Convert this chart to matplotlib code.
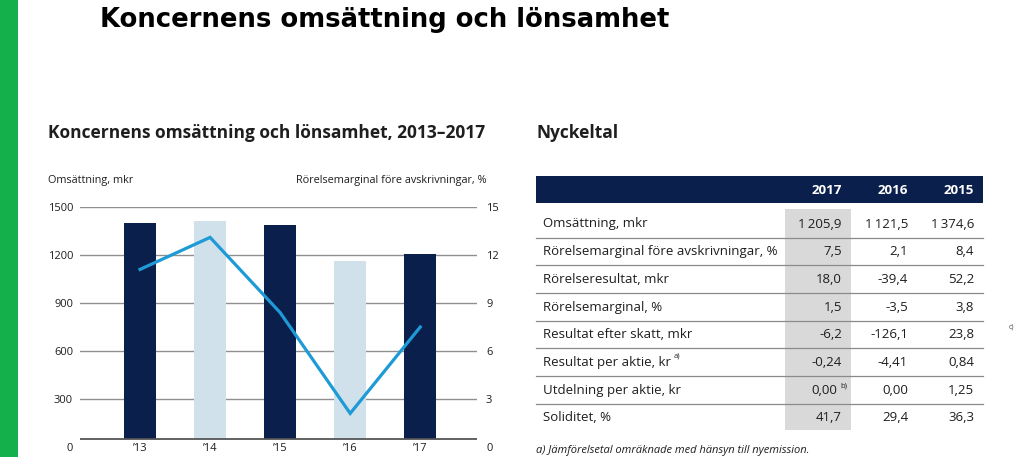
import matplotlib
matplotlib.use('Agg')
import matplotlib.pyplot as plt
from matplotlib.patches import Rectangle

W, H = 1024, 457
DPI = 100

# ---------------- data ----------------
years = ['\u201913', '\u201914', '\u201915', '\u201916', '\u201917']
revenue = [1400, 1410, 1390, 1160, 1205]        # Omsättning, mkr
margin = [11.1, 13.1, 8.4, 2.1, 7.5]            # Rörelsemarginal före avskrivningar, %
left_ticks = [0, 300, 600, 900, 1200, 1500]
right_ticks = [0, 3, 6, 9, 12, 15]

table_years = ['2017', '2016', '2015']
row_labels = ['Omsättning, mkr',
              'Rörelsemarginal före avskrivningar, %',
              'Rörelseresultat, mkr',
              'Rörelsemarginal, %',
              'Resultat efter skatt, mkr',
              'Resultat per aktie, kr',
              'Utdelning per aktie, kr',
              'Soliditet, %']
row_notes = ['', '', '', '', '', 'a)', '', '']
vals_2017 = ['1\u2009205,9', '7,5', '18,0', '1,5', '-6,2', '-0,24', '0,00', '41,7']
vals_2016 = ['1\u2009121,5', '2,1', '-39,4', '-3,5', '-126,1', '-4,41', '0,00', '29,4']
vals_2015 = ['1\u2009374,6', '8,4', '52,2', '3,8', '23,8', '0,84', '1,25', '36,3']
notes_2017 = ['', '', '', '', '', '', 'b)', '']

# ---------------- style ----------------
NAVY = '#0b1f4d'
LIGHT = '#d0e1eb'
LINE = '#1e9ad6'
GRID = '#8f8f8f'
GREEN = '#14b04c'
GREYCOL = '#d9d9d9'
TXT = '#1e1e1e'
FONT = ['Open Sans', 'DejaVu Sans']

plt.rcParams['font.family'] = FONT

fig = plt.figure(figsize=(W / DPI, H / DPI), dpi=DPI)

# overlay axes in pixel coordinates
ov = fig.add_axes([0, 0, 1, 1])
ov.set_xlim(0, W)
ov.set_ylim(H, 0)
ov.axis('off')
ov.set_zorder(0)

ov.add_patch(Rectangle((0, 0), 18, H, color=GREEN, lw=0))
ov.text(100, 20, 'Koncernens omsättning och lönsamhet', fontsize=18.6,
        family=['DejaVu Sans'], fontweight='bold', va='center', ha='left', color='black')

# section titles
ov.text(48, 133, 'Koncernens omsättning och lönsamhet, 2013\u20132017', fontsize=12.5,
        fontweight='bold', va='center', ha='left', color=TXT)
ov.text(536, 133, 'Nyckeltal', fontsize=12.5, fontweight='bold', va='center', ha='left', color=TXT)
ov.text(48, 181, 'Omsättning, mkr', fontsize=7.8, va='center', ha='left', color=TXT)
ov.text(486, 181, 'Rörelsemarginal före avskrivningar, %', fontsize=7.8, va='center', ha='right',
        color=TXT)

# ---------------- chart ----------------
ax_left, ax_right = 80, 477
ax_top, ax_bot = 207, 447
ax = fig.add_axes([ax_left / W, 1 - ax_bot / H, (ax_right - ax_left) / W, (ax_bot - ax_top) / H])
ax.set_zorder(1)
ax.patch.set_alpha(0)
n = len(years)
xs = list(range(n))
ax.set_xlim(-0.857, 4.81)
ax.set_ylim(left_ticks[0], left_ticks[-1])
baseline = 50
for t in left_ticks[1:]:
    ax.axhline(t, color=GRID, lw=1.0, zorder=0)
ax.axhline(baseline, color='#555555', lw=1.3, zorder=3)
bar_cols = [NAVY if i % 2 == 0 else LIGHT for i in range(n)]
ax.bar(xs, [r - baseline for r in revenue], bottom=baseline, width=0.46, color=bar_cols, zorder=2)
for s in ax.spines.values():
    s.set_visible(False)
ax.set_yticks(left_ticks)
ax.set_yticklabels([str(t) for t in left_ticks])
ax.set_xticks(xs)
ax.set_xticklabels(years)
ax.tick_params(axis='y', length=0, pad=5, labelsize=8, labelcolor=TXT)
ax.tick_params(axis='x', length=0, pad=-3, labelsize=8, labelcolor=TXT)

ax2 = ax.twinx()
ax2.set_ylim(right_ticks[0], right_ticks[-1])
ax2.plot(xs, margin, color=LINE, lw=2.3, zorder=4, solid_joinstyle='miter')
for s in ax2.spines.values():
    s.set_visible(False)
ax2.set_yticks(right_ticks)
ax2.set_yticklabels([str(t) for t in right_ticks])
ax2.tick_params(axis='y', length=0, pad=6.5, labelsize=8, labelcolor=TXT)

# ---------------- table ----------------
tx0, tx1 = 536, 983
col_right = [842, 908, 974]
ov.add_patch(Rectangle((tx0, 176), tx1 - tx0, 27, color=NAVY, lw=0))
for yr, cx in zip(table_years, col_right):
    ov.text(cx, 190, yr, color='white', fontsize=9.6, fontweight='bold', ha='right', va='center')

row0, dy = 224, 27.7
nrows = len(row_labels)
ov.add_patch(Rectangle((785, 209), 66, 221, color=GREYCOL, lw=0))
for i in range(nrows):
    y = row0 + i * dy
    t = ov.text(543, y, row_labels[i], fontsize=9.5, ha='left', va='center', color=TXT)
    if row_notes[i]:
        ov.annotate(row_notes[i], xy=(1, 0.5), xycoords=t, xytext=(2, 2), textcoords='offset points',
                    fontsize=5.5, ha='left', va='bottom', color=TXT)
    for ci, vals in enumerate([vals_2017, vals_2016, vals_2015]):
        note = notes_2017[i] if ci == 0 else ''
        if note:
            ov.text(col_right[ci] - 5, y, vals[i], fontsize=9.5, ha='right', va='center', color=TXT)
            ov.text(col_right[ci] - 2, y - 4, note, fontsize=5.5, ha='left', va='center', color=TXT)
        else:
            ov.text(col_right[ci], y, vals[i], fontsize=9.5, ha='right', va='center', color=TXT)
    if i < nrows - 1:
        ov.plot([tx0, tx1], [y + 13.6, y + 13.6], color='#8a8a8a', lw=0.9)

ov.text(536, 450, 'a) Jämförelsetal omräknade med hänsyn till nyemission.', fontsize=8,
        style='italic', ha='left', va='center', color=TXT)
ov.text(1011, 327, 'c)', fontsize=5, ha='center', va='center', color='#444444')

fig.savefig('out.png', dpi=DPI)
